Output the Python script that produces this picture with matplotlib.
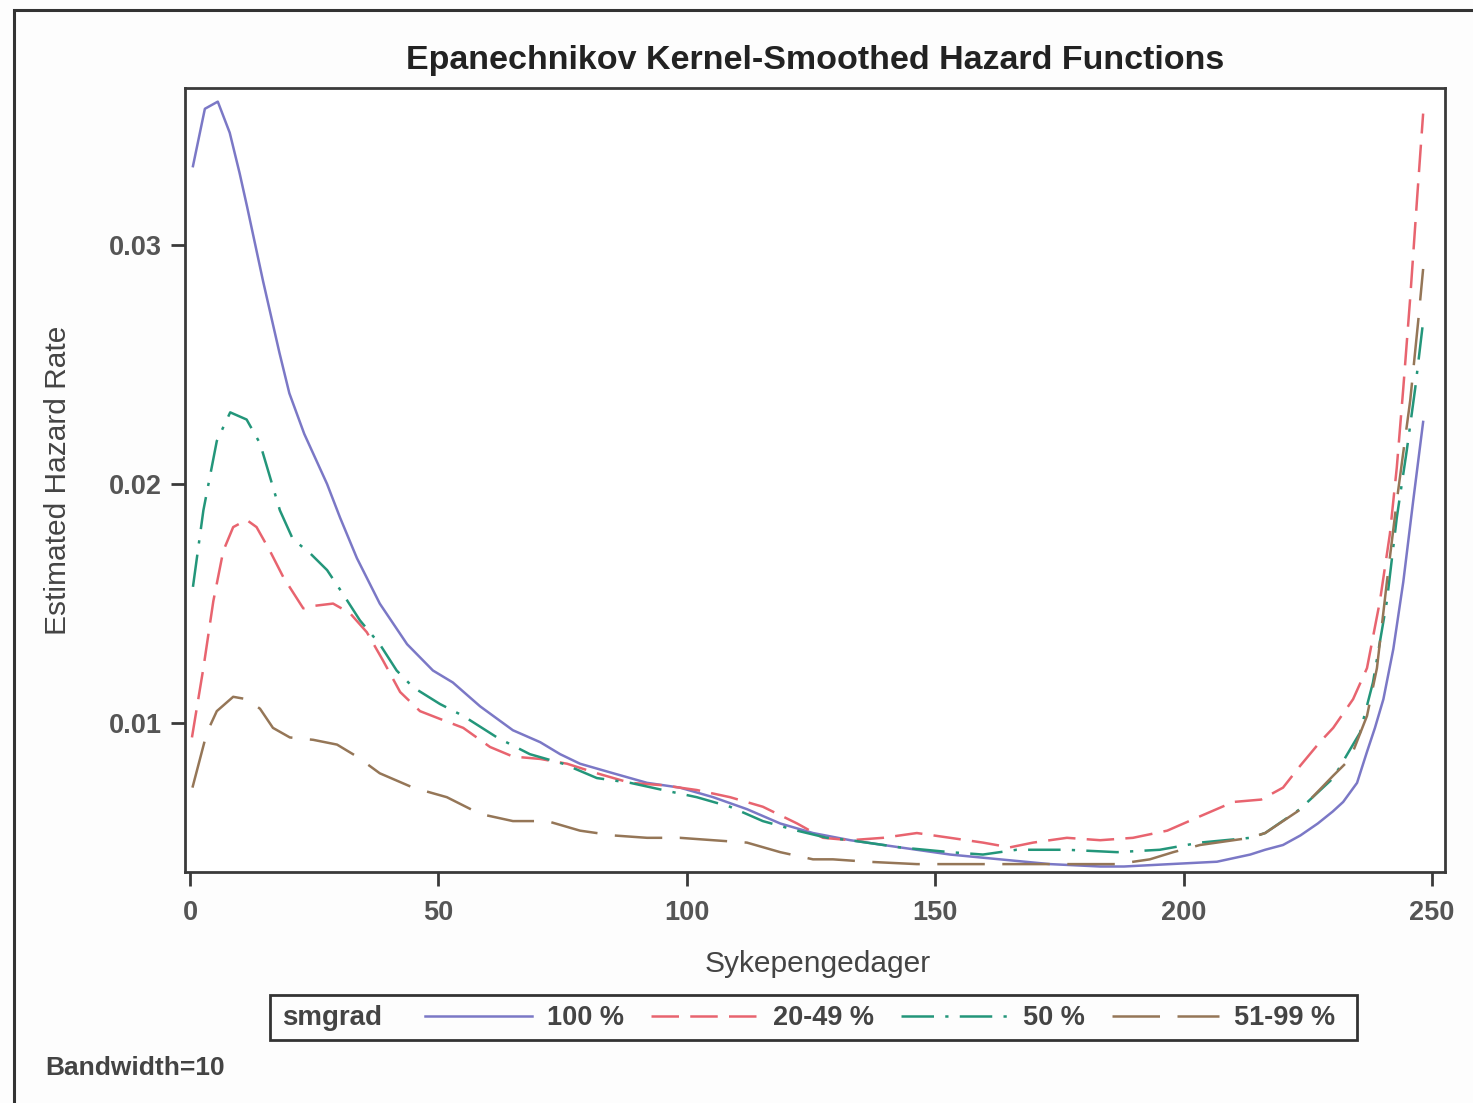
import matplotlib
matplotlib.use("Agg")
import matplotlib.pyplot as plt
from matplotlib.patches import Rectangle

# ---------------- data ----------------
days_100 = [0.6, 3, 5.6, 8, 10, 11.5, 14.7, 18, 20, 23, 27.6, 30.2, 33.6, 38.2, 43.7, 48.9,
            52.9, 58.4, 65, 70.5, 74.5, 78.5, 85.2, 92, 98.6, 105.3, 112.1, 118.8, 125.4,
            132.9, 142.9, 153, 163, 173.1, 183.2, 188, 197.3, 206.7, 213.4, 216.4, 220,
            223.5, 227, 230, 232.1, 234.9, 236.9, 238.5, 240.2, 242.2, 244.2, 246.2, 248.2]
hazard_100 = [0.0333, 0.0357, 0.0360, 0.0347, 0.0330, 0.0316, 0.0285, 0.0255, 0.0238, 0.0221,
              0.0200, 0.0186, 0.0169, 0.0150, 0.0133, 0.0122, 0.0117, 0.0107, 0.0097, 0.0092,
              0.0087, 0.0083, 0.0079, 0.0075, 0.0073, 0.0069, 0.0064, 0.0058, 0.0054, 0.0051,
              0.0048, 0.0045, 0.0043, 0.0041, 0.0040, 0.0040, 0.0041, 0.0042, 0.0045, 0.0047,
              0.0049, 0.0053, 0.0058, 0.0063, 0.0067, 0.0075, 0.0088, 0.0098, 0.0110, 0.0131,
              0.0159, 0.0193, 0.0226]

days_20_49 = [0.4, 2.7, 4.7, 6.7, 8.7, 11.4, 13.4, 16.1, 18.8, 22.8, 24.8, 28.8, 32.2, 35.6,
              38.9, 42.3, 46.3, 50, 55, 60.4, 65, 70.5, 75.9, 81.9, 88.6, 95.2, 102, 108.7,
              115.3, 122.2, 127.4, 132.9, 139.5, 146.3, 153, 159.6, 165, 169.7, 176.5, 183.2,
              189.8, 196.7, 203.3, 210, 215.6, 220, 223.4, 227.4, 230.1, 234.1, 236.9, 239.5,
              241.5, 242.9, 244.2, 245.6, 247, 248.2]
hazard_20_49 = [0.0094, 0.0123, 0.0151, 0.0172, 0.0182, 0.0185, 0.0182, 0.0172, 0.0161, 0.0148,
                0.0149, 0.0150, 0.0146, 0.0138, 0.0126, 0.0113, 0.0105, 0.0102, 0.0098, 0.0090,
                0.0086, 0.0085, 0.0083, 0.0079, 0.0075, 0.0074, 0.0072, 0.0069, 0.0065, 0.0058,
                0.0052, 0.0051, 0.0052, 0.0054, 0.0052, 0.0050, 0.0048, 0.0050, 0.0052, 0.0051,
                0.0052, 0.0055, 0.0061, 0.0067, 0.0068, 0.0073, 0.0082, 0.0092, 0.0098, 0.0110,
                0.0123, 0.0151, 0.0179, 0.0207, 0.0240, 0.0278, 0.0320, 0.0355]

days_50 = [0.6, 2.7, 5.4, 8.1, 11.4, 14.1, 16.1, 18.1, 20.7, 24.2, 27.6, 30.8, 34.2, 38.2,
           41.6, 44.9, 50.3, 55, 61.8, 68.4, 75.1, 81.9, 88.6, 95.2, 102, 108.7, 115.3, 122.2,
           128.2, 132.9, 142.9, 153, 159.6, 166.4, 176.5, 186.6, 195.2, 203.3, 213.4, 216.4,
           223.4, 230.1, 235.5, 238.1, 240.9, 242.9, 244.9, 246.6, 248.2]
hazard_50 = [0.0157, 0.0189, 0.0218, 0.0230, 0.0227, 0.0217, 0.0203, 0.0189, 0.0177, 0.0171,
             0.0164, 0.0154, 0.0143, 0.0133, 0.0122, 0.0115, 0.0108, 0.0103, 0.0094, 0.0087,
             0.0083, 0.0077, 0.0075, 0.0072, 0.0069, 0.0065, 0.0059, 0.0055, 0.0052, 0.0051,
             0.0048, 0.0046, 0.0045, 0.0047, 0.0047, 0.0046, 0.0047, 0.0050, 0.0052, 0.0054,
             0.0064, 0.0077, 0.0096, 0.0117, 0.0151, 0.0186, 0.0214, 0.0240, 0.0268]

days_51_99 = [0.5, 3.4, 5.4, 8.7, 11.4, 14.1, 16.7, 20.1, 24.8, 29.6, 33.6, 38.2, 44.9, 51.7,
              58.4, 65, 71.9, 78.5, 85.2, 92, 98.6, 105.3, 112.1, 118.8, 125.4, 129.4, 136.3,
              146.3, 153, 165, 176.5, 186.6, 193.2, 197.9, 203.3, 213.4, 216.4, 223.6, 230.1,
              233.5, 236.9, 238.9, 240.9, 242.9, 245.6, 247.2, 248.2]
hazard_51_99 = [0.0073, 0.0096, 0.0105, 0.0111, 0.0110, 0.0106, 0.0098, 0.0094, 0.0093, 0.0091,
                0.0086, 0.0079, 0.0073, 0.0069, 0.0062, 0.0059, 0.0059, 0.0055, 0.0053, 0.0052,
                0.0052, 0.0051, 0.0050, 0.0046, 0.0043, 0.0043, 0.0042, 0.0041, 0.0041, 0.0041,
                0.0041, 0.0041, 0.0043, 0.0046, 0.0049, 0.0052, 0.0054, 0.0064, 0.0078, 0.0085,
                0.0103, 0.0123, 0.0159, 0.0193, 0.0235, 0.0268, 0.0290]

group_labels = ["100 %", "20-49 %", "50 %", "51-99 %"]
x_ticks = [0, 50, 100, 150, 200, 250]
y_ticks = [0.01, 0.02, 0.03]
y_tick_labels = ["0.01", "0.02", "0.03"]

# ---------------- figure ----------------
plt.rcParams['font.family'] = ['Liberation Sans', 'DejaVu Sans']
W, H = 1473, 1103
fig = plt.figure(figsize=(W / 100, H / 100), dpi=100)
fig.patch.set_facecolor('#fdfdfd')

# outer frame (extends beyond right/bottom edges)
fig.patches.append(Rectangle((14 / W, -0.02), 1.1, 1 - 10 / H + 0.02, transform=fig.transFigure,
                             fill=False, edgecolor='#333333', linewidth=2.2))

ax = fig.add_axes([185 / W, 1 - 872 / H, (1445 - 185) / W, (872 - 88) / H])
ax.set_facecolor('white')

colors = ['#7b78c6', '#e8646f', '#23967a', '#957657']
lw = 1.8
series = [(days_100, hazard_100), (days_20_49, hazard_20_49),
          (days_50, hazard_50), (days_51_99, hazard_51_99)]
styles = [dict(linestyle='-'),
          dict(dashes=(11, 4.5)),
          dict(dashes=(13, 4.5, 1.3, 4.5)),
          dict(dashes=(19, 7))]
lines = []
for (xs, ys), c, st, lab in zip(series, colors, styles, group_labels):
    ln, = ax.plot(xs, ys, color=c, lw=lw, label=lab, **st)
    lines.append(ln)

ax.set_xlim(-1.0, 252.6)
ax.set_ylim(0.00377, 0.03657)
ax.set_xticks(x_ticks)
ax.set_yticks(y_ticks)
ax.set_yticklabels(y_tick_labels)
for s in ax.spines.values():
    s.set_color('#3a3a3a')
    s.set_linewidth(2.0)
ax.tick_params(axis='both', direction='out', length=10, width=2, color='#3a3a3a',
               labelsize=19.5, labelcolor='#555555')
ax.tick_params(axis='y', pad=7)
ax.tick_params(axis='x', pad=10)
for t in ax.get_xticklabels() + ax.get_yticklabels():
    t.set_fontweight('bold')

ax.set_title("Epanechnikov Kernel-Smoothed Hazard Functions", fontsize=24.5, fontweight='bold',
             color='#222222', pad=14)
ax.set_xlabel("Sykepengedager", fontsize=21.5, color='#444444')
ax.set_ylabel("Estimated Hazard Rate", fontsize=21.5, color='#444444')
ax.xaxis.set_label_coords(0.502, -0.1)
ax.yaxis.set_label_coords(-0.0897, 0.5)

# legend box
fig.patches.append(Rectangle((270 / W, 1 - 1040 / H), (1357 - 270) / W, 45 / H,
                             transform=fig.transFigure, fill=False,
                             edgecolor='#333333', linewidth=2.0))
fig.text(282 / W, 1 - 1018 / H, "smgrad", fontsize=20, color='#444444', va='center', ha='left',
         fontweight='bold')
leg = fig.legend(handles=lines, labels=group_labels, loc='center left',
                 bbox_to_anchor=(425 / W, 1 - 1018 / H), ncol=4, frameon=False,
                 prop={'size': 19.5, 'weight': 'bold'}, handlelength=3.95, handletextpad=0.55,
                 columnspacing=1.0, borderpad=0, borderaxespad=0)
for t in leg.get_texts():
    t.set_color('#444444')

fig.text(45 / W, 1 - 1068 / H, "Bandwidth=10", fontsize=19, color='#444444', va='center',
         ha='left', fontweight='bold')

fig.savefig("out.png", dpi=100, facecolor=fig.get_facecolor())
